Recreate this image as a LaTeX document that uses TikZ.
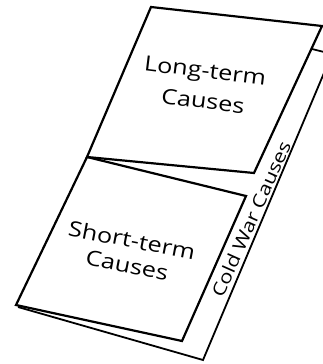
\documentclass[tikz,border=0pt]{standalone}
\usepackage{fontspec}
\setmainfont{Open Sans}[FakeStretch=1.2]
\begin{document}
\begin{tikzpicture}[x=1pt,y=-1pt,
  card/.style={draw=black,line width=2.2pt,fill=white,line join=miter},
  sheet/.style={draw=black,line width=1.8pt,line join=miter},
  lbl/.style={font=\fontsize{21}{23}\selectfont,inner sep=0pt}]
\useasboundingbox (0,0) rectangle (323,364);
\clip (0,0) rectangle (323,364);
% back sheet
\coordinate (s1) at (312,49);
\coordinate (s2) at (332,54);
\coordinate (s3) at (203,360);
\coordinate (s4) at (18,307);
\draw[sheet] (s1) -- (s2) -- (s3) -- (s4);
% short-term card
\coordinate (d) at (87,157);
\coordinate (e) at (246,196);
\coordinate (f) at (182,341);
\coordinate (g) at (16,305);
\draw[card] (d) -- (e) -- (f) -- (g) -- cycle;
% long-term card
\coordinate (a) at (151,7);
\coordinate (b) at (322,26);
\coordinate (c) at (254,173);
\draw[card] (a) -- (b) -- (c) -- (d) -- cycle;
% labels
\node[lbl,rotate=-7] (lt1) at (205,73) {Long-term};
\node[lbl,rotate=-7] (lt2) at (203,101) {Causes};
\node[lbl,rotate=-11] (st1) at (132,240) {Short-term};
\node[lbl,rotate=-11] (st2) at (127,265) {Causes};
\node[lbl,rotate=66,font=\fontsize{18}{20}\selectfont] (cw) at (251,219) {Cold War Causes};
\end{tikzpicture}
\end{document}
